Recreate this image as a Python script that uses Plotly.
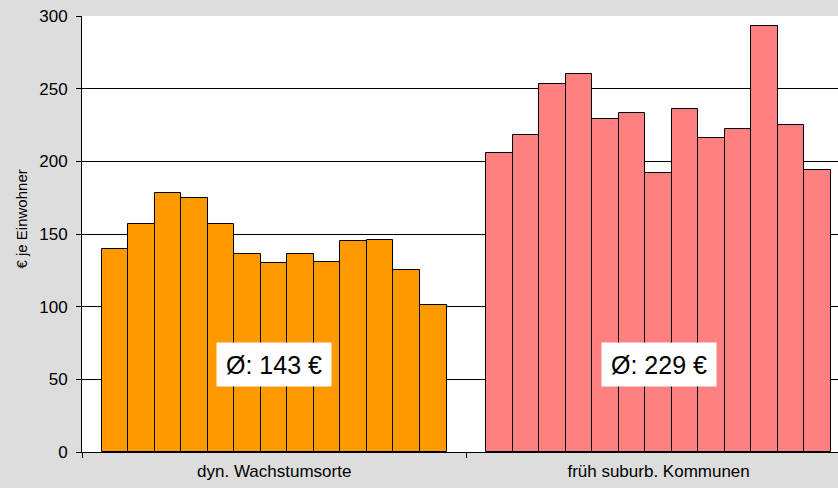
import plotly.graph_objects as go

# Ausgaben je Einwohner, zwei Gemeindetypen mit je 13 Gemeinden
categories = ["dyn. Wachstumsorte", "früh suburb. Kommunen"]
wachstumsorte = [140, 157, 178, 175, 157, 136.5, 130, 136, 130.5, 145, 146, 125, 101]
suburb_kommunen = [206, 218, 253, 260, 229, 233, 192, 236, 216, 222, 293, 225, 194]
y_ticks = [0, 50, 100, 150, 200, 250, 300]

colors = ["#FF9900", "#FF8080"]
series = [wachstumsorte, suburb_kommunen]

# each group occupies 14.5 bar-widths on a numeric axis
group_span = 14.5
group_centers = [6 + i * group_span for i in range(len(categories))]
group_edges = [group_centers[0] - group_span / 2 + i * group_span for i in range(len(categories) + 1)]

fig = go.Figure()
for values, color, center in zip(series, colors, group_centers):
    n = len(values)
    xs = [center - (n - 1) / 2 + i for i in range(n)]
    fig.add_trace(go.Bar(
        x=xs, y=values, width=1,
        marker=dict(color=color, line=dict(color="black", width=1)),
        showlegend=False, hoverinfo="y",
    ))
    avg = sum(values) / n
    fig.add_annotation(
        x=center, y=60, xref="x", yref="y",
        text=f"Ø: {round(avg)} €", showarrow=False,
        font=dict(size=25, color="black"),
        bgcolor="white", width=112, height=41, borderpad=1,
        align="center", valign="middle",
    )

fig.add_annotation(
    x=(21 - 82) / 756, y=(452 - 219.5) / 436, xref="paper", yref="paper",
    text="€ je Einwohner", textangle=-90, showarrow=False,
    font=dict(size=15, color="black"), xanchor="center", yanchor="middle",
)

fig.update_layout(
    width=838, height=488,
    margin=dict(l=82, r=0, t=16, b=36),
    paper_bgcolor="#DDDDDD", plot_bgcolor="white",
    font=dict(family="Arial, Liberation Sans, sans-serif", color="black"),
    bargap=0,
)
fig.update_xaxes(
    range=[group_edges[0], group_edges[0] + 756 / 26.51],
    tickmode="array", tickvals=group_centers, ticktext=categories,
    ticks="", tickfont=dict(size=17), ticklabelstandoff=4,
    showline=True, linecolor="black", linewidth=1,
    showgrid=False, zeroline=False,
    minor=dict(tickmode="array", tickvals=group_edges, ticks="outside",
               ticklen=5, tickcolor="black", tickwidth=1, showgrid=False),
)
fig.update_yaxes(
    range=[0, 300], tickmode="array", tickvals=y_ticks,
    ticks="outside", ticklen=5, tickcolor="black", tickwidth=1,
    tickfont=dict(size=17), ticklabelstandoff=5,
    showline=True, linecolor="black", linewidth=1,
    showgrid=True, gridcolor="black", gridwidth=1, zeroline=False,
)

fig.write_html("out.html")
